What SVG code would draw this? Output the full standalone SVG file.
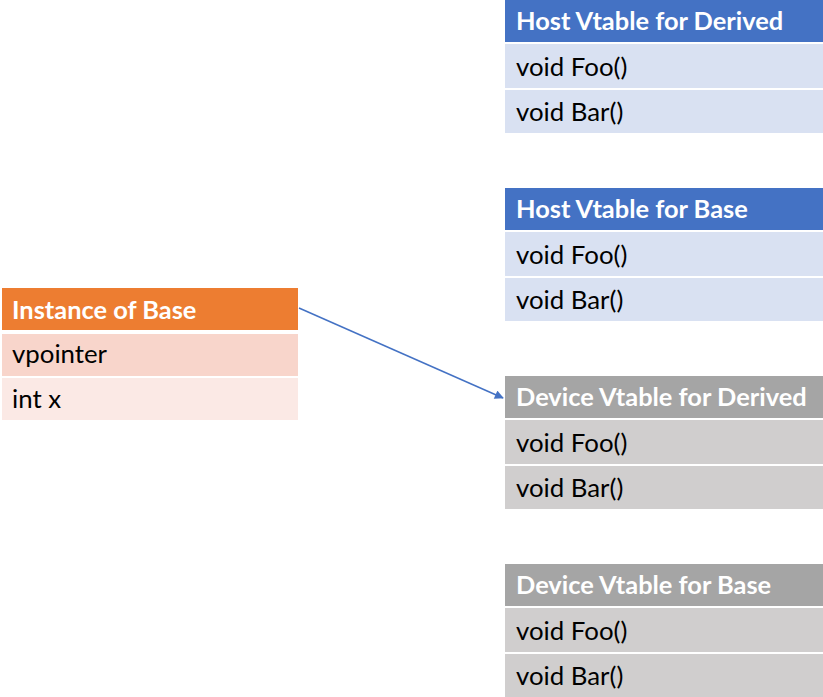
<svg xmlns="http://www.w3.org/2000/svg" width="823" height="697" viewBox="0 0 823 697">
<defs>
<style>
.hdr{font-family:Lato,"Liberation Sans",sans-serif;font-weight:bold;font-size:25.4px;fill:#fff}
.row{font-family:Lato,"Liberation Sans",sans-serif;font-size:25.8px;fill:#000}
.hb{fill:#4472C4}.hr{fill:#D9E1F2}
.db{fill:#A5A5A5}.dr{fill:#D0CECE}
.ob{fill:#ED7D31}.or1{fill:#F8D5CB}.or2{fill:#FBE9E5}
</style>
<marker id="ah" viewBox="0 0 10 10" refX="9" refY="5" markerWidth="10" markerHeight="9" markerUnits="userSpaceOnUse" orient="auto">
<path d="M0,0 L10,5 L0,10 z" fill="#4472C4"/>
</marker>
</defs>
<rect width="823" height="697" fill="#fff"/>
<g id="host-derived">
<rect class="hb" x="505" y="0" width="318" height="42"/>
<rect class="hr" x="505" y="44" width="318" height="44"/>
<rect class="hr" x="505" y="90" width="318" height="43"/>
<text class="hdr" x="516" y="30">Host Vtable for Derived</text>
<text class="row" x="516" y="76">void Foo()</text>
<text class="row" x="516" y="121">void Bar()</text>
</g>
<g id="host-base">
<rect class="hb" x="505" y="188" width="318" height="42"/>
<rect class="hr" x="505" y="232" width="318" height="44"/>
<rect class="hr" x="505" y="278" width="318" height="43"/>
<text class="hdr" x="516" y="218">Host Vtable for Base</text>
<text class="row" x="516" y="264">void Foo()</text>
<text class="row" x="516" y="309">void Bar()</text>
</g>
<g id="device-derived">
<rect class="db" x="505" y="376" width="318" height="42"/>
<rect class="dr" x="505" y="420" width="318" height="44"/>
<rect class="dr" x="505" y="466" width="318" height="43"/>
<text class="hdr" x="516" y="406">Device Vtable for Derived</text>
<text class="row" x="516" y="452">void Foo()</text>
<text class="row" x="516" y="497">void Bar()</text>
</g>
<g id="device-base">
<rect class="db" x="505" y="564" width="318" height="42"/>
<rect class="dr" x="505" y="608" width="318" height="44"/>
<rect class="dr" x="505" y="654" width="318" height="43"/>
<text class="hdr" x="516" y="594">Device Vtable for Base</text>
<text class="row" x="516" y="640">void Foo()</text>
<text class="row" x="516" y="685">void Bar()</text>
</g>
<g id="instance-base">
<rect class="ob" x="2" y="288" width="296" height="42"/>
<rect class="or1" x="2" y="334" width="296" height="42"/>
<rect class="or2" x="2" y="378" width="296" height="42"/>
<text class="hdr" x="12" y="319">Instance of Base</text>
<text class="row" x="12" y="363">vpointer</text>
<text class="row" x="12" y="408">int x</text>
</g>
<g id="connectors">
<line x1="299" y1="308" x2="503" y2="398" stroke="#4472C4" stroke-width="1.5" marker-end="url(#ah)"/>
</g>
</svg>
